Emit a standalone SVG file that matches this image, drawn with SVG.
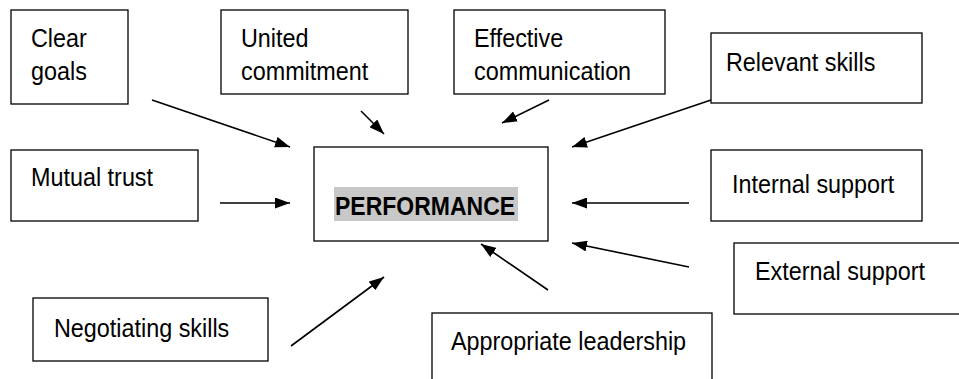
<svg xmlns="http://www.w3.org/2000/svg" width="959" height="379" viewBox="0 0 959 379">
<defs>
<marker id="ah" markerUnits="userSpaceOnUse" markerWidth="16" markerHeight="11" refX="15" refY="5.5" orient="auto"><path d="M0,0 L15,5.5 L0,11 z" fill="#000"/></marker>
<style>
.box{fill:#fff;stroke:#000;stroke-width:1.3}
.t{font-family:"Liberation Sans",Arial,sans-serif;font-size:25px;fill:#000}
.b{font-weight:bold}
.c{stroke:#000;stroke-width:1.6;fill:none;marker-end:url(#ah)}
</style>
</defs>
<rect width="959" height="379" fill="#fff"/>
<g id="clear-goals"><rect class="box" x="11" y="10" width="117" height="94"/><text class="t" transform="translate(31 47) scale(0.935 1)">Clear</text><text class="t" transform="translate(31 80) scale(0.935 1)">goals</text></g>
<g id="united-commitment"><rect class="box" x="221" y="10" width="187" height="84"/><text class="t" transform="translate(241 47) scale(0.935 1)">United</text><text class="t" transform="translate(241 80) scale(0.935 1)">commitment</text></g>
<g id="effective-communication"><rect class="box" x="454" y="10" width="211" height="84"/><text class="t" transform="translate(474 47) scale(0.935 1)">Effective</text><text class="t" transform="translate(474 80) scale(0.935 1)">communication</text></g>
<g id="relevant-skills"><rect class="box" x="711" y="33" width="211" height="70"/><text class="t" transform="translate(726 71) scale(0.935 1)">Relevant skills</text></g>
<g id="mutual-trust"><rect class="box" x="11" y="150" width="187" height="71"/><text class="t" transform="translate(31 186) scale(0.935 1)">Mutual trust</text></g>
<g id="performance"><rect class="box" x="314" y="147" width="234" height="94"/><rect x="334" y="187" width="184" height="34" fill="#c8c8c8"/><text class="t b" transform="translate(335 215) scale(0.92 1)">PERFORMANCE</text></g>
<g id="internal-support"><rect class="box" x="711" y="150" width="211" height="71"/><text class="t" transform="translate(732 193) scale(0.935 1)">Internal support</text></g>
<g id="external-support"><rect class="box" x="734" y="243" width="240" height="71"/><text class="t" transform="translate(755 280) scale(0.935 1)">External support</text></g>
<g id="negotiating-skills"><rect class="box" x="33" y="298" width="235" height="63"/><text class="t" transform="translate(54 337) scale(0.935 1)">Negotiating skills</text></g>
<g id="appropriate-leadership"><rect class="box" x="432" y="313" width="280" height="80"/><text class="t" transform="translate(451 350) scale(0.935 1)">Appropriate leadership</text></g>
<g id="connectors">
<line class="c" x1="152" y1="100" x2="290" y2="147"/>
<line class="c" x1="361" y1="111" x2="384" y2="134"/>
<line class="c" x1="549" y1="100" x2="502" y2="123"/>
<line class="c" x1="711" y1="100" x2="572" y2="147"/>
<line class="c" x1="220" y1="203" x2="290" y2="203"/>
<line class="c" x1="689" y1="203" x2="572" y2="203"/>
<line class="c" x1="689" y1="267" x2="572" y2="243"/>
<line class="c" x1="548" y1="290" x2="481" y2="244"/>
<line class="c" x1="291" y1="346" x2="384" y2="277"/>
</g>
</svg>
